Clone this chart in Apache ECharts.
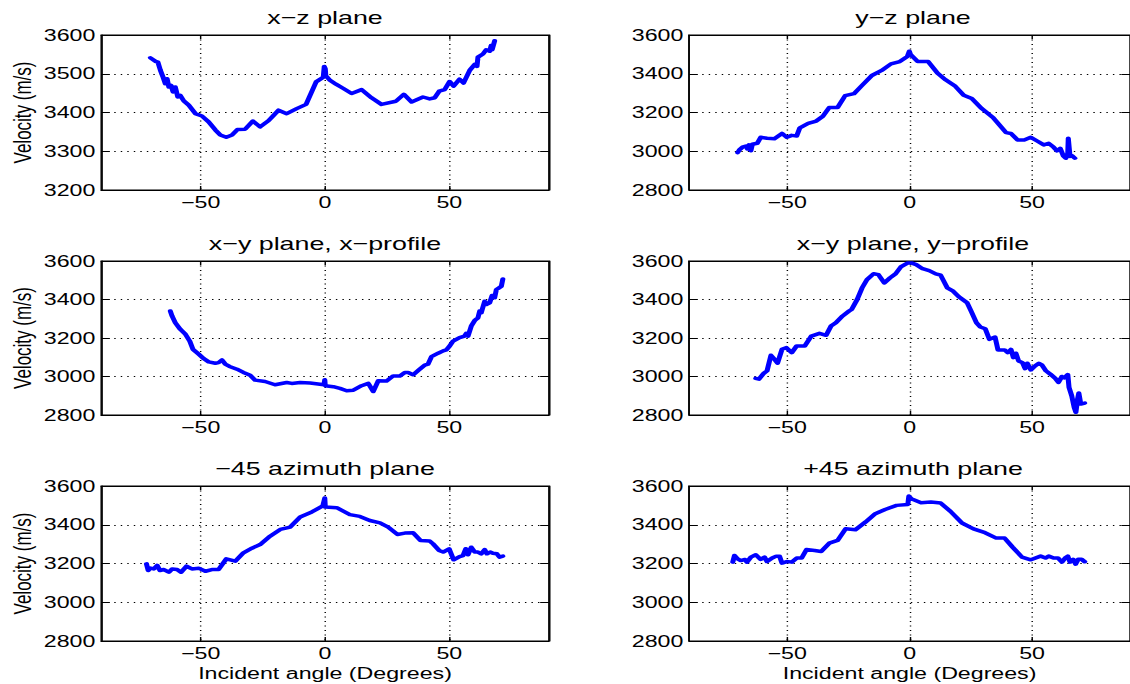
<!DOCTYPE html>
<html>
<head>
<meta charset="utf-8">
<script src="https://cdn.jsdelivr.net/npm/echarts@6/dist/echarts.min.js"></script>
<style>
html,body{margin:0;padding:0;background:#fff;overflow:hidden;width:1130px;height:684px;}
#chart{width:780px;height:684px;transform:scaleX(1.448718);transform-origin:0 0;}
</style>
</head>
<body>
<div id="chart"></div>
<script>
// ---- data ----
const xTicks = [-50, 0, 50];
const titles = ['x\u2212z plane', 'y\u2212z plane', 'x\u2212y plane, x\u2212profile', 'x\u2212y plane, y\u2212profile', '\u221245 azimuth plane', '+45 azimuth plane'];
const yLabel = 'Velocity (m/s)';
const xLabel = 'Incident angle (Degrees)';

const xzAngle = [-70.2,-68.2,-67.2,-66.2,-65.1,-64.2,-63.5,-62.8,-61.9,-61.1,-60.2,-59.2,-58.2,-56.8,-54.8,-52.1,-49.5,-46.8,-44.1,-42.1,-39.7,-37.4,-35.2,-32.1,-29.0,-26.1,-22.7,-18.7,-15.4,-11.4,-7.6,-3.6,-0.7,-0.3,0.1,0.3,2.0,4.4,7.4,10.7,14.7,18.7,22.7,28.5,31.7,34.8,39.4,42.1,44.1,45.9,48.1,50.1,51.7,54.1,55.7,58.2,60.2,61.1,61.5,63.5,64.8,66.2,66.8,67.2,68.2];
const xzVel   = [3541,3532,3530,3509,3491,3474,3487,3466,3470,3453,3466,3440,3444,3430,3419,3397,3391,3376,3355,3342,3336,3342,3356,3357,3378,3363,3379,3406,3397,3410,3421,3479,3491,3519,3513,3495,3483,3473,3462,3449,3459,3438,3421,3429,3447,3427,3440,3435,3438,3455,3459,3480,3468,3486,3476,3509,3524,3519,3543,3551,3562,3558,3573,3562,3585];

const yzAngle = [-70.2,-69.5,-68.2,-66.8,-66.2,-65.5,-64.8,-64.2,-62.2,-60.8,-58.2,-55.2,-52.1,-50.1,-48.1,-46.1,-44.8,-41.4,-38.1,-35.4,-32.8,-29.4,-26.3,-22.7,-19.4,-15.4,-11.4,-7.6,-4.0,-0.9,-0.1,0.4,3.3,7.6,11.4,14.7,18.7,22.1,25.4,29.4,34.1,39.4,41.4,44.1,46.8,49.5,52.1,54.8,56.8,58.8,60.2,61.5,62.8,63.8,64.6,64.8,65.5,66.4,67.5];
const yzVel   = [2993,3007,3021,3027,3012,3033,3003,3036,3041,3072,3067,3065,3092,3072,3082,3079,3121,3144,3156,3181,3226,3226,3287,3297,3340,3391,3417,3451,3463,3489,3516,3499,3463,3463,3403,3369,3335,3289,3272,3221,3174,3096,3092,3058,3058,3072,3053,3033,3041,3021,3002,3015,2976,2964,2990,3067,2973,2976,2964];

const xyxAngle = [-62.2,-61.5,-60.2,-58.2,-56.1,-54.4,-53.1,-50.8,-48.8,-46.8,-44.1,-42.8,-41.4,-40.1,-38.4,-35.4,-32.8,-30.1,-28.1,-24.1,-20.1,-15.4,-13.4,-10.0,-6.0,-2.0,-0.4,-0.1,0.1,3.3,6.0,8.7,11.4,14.7,17.4,19.4,21.4,24.7,27.4,30.1,32.1,33.4,35.4,38.1,40.1,41.4,42.8,45.5,47.5,48.8,49.9,51.5,54.1,56.1,56.8,57.5,58.8,60.2,61.5,62.2,62.8,64.2,64.8,66.2,67.2,68.2,68.9,70.0,70.9,71.5];
const xyxVel   = [3340,3314,3279,3245,3219,3184,3141,3116,3093,3076,3069,3072,3086,3064,3052,3038,3021,3007,2981,2974,2957,2969,2964,2969,2966,2960,2957,2983,2952,2947,2938,2926,2929,2952,2964,2922,2978,2976,3003,3003,3021,3021,3009,3038,3059,3064,3103,3121,3133,3138,3155,3184,3202,3210,3224,3210,3262,3291,3305,3340,3331,3391,3374,3383,3421,3409,3452,3460,3469,3507];

const xyyAngle = [-62.8,-61.5,-59.5,-58.2,-56.6,-55.2,-53.9,-52.1,-50.4,-48.1,-46.1,-42.8,-40.1,-36.8,-34.1,-32.1,-30.1,-27.4,-24.7,-23.7,-21.4,-19.4,-17.4,-14.7,-12.7,-10.3,-8.0,-5.7,-3.6,-0.7,0.7,2.7,5.3,8.0,10.7,12.7,15.4,17.8,20.1,23.5,25.1,27.3,28.9,30.9,32.6,34.9,36.1,38.8,40.1,41.4,42.4,43.4,44.5,46.1,47.2,48.1,49.5,51.2,52.8,54.1,55.7,57.5,59.5,60.8,62.2,63.2,64.6,65.1,66.2,67.2,67.9,68.6,69.1,69.9,71.5];
const xyyVel   = [2990,2986,3017,3029,3110,3090,3069,3141,3150,3124,3159,3159,3210,3224,3214,3262,3279,3314,3340,3348,3400,3460,3503,3534,3529,3486,3512,3534,3569,3590,3590,3581,3560,3550,3533,3526,3460,3443,3414,3383,3340,3279,3257,3248,3193,3205,3138,3138,3124,3141,3098,3121,3081,3072,3041,3069,3034,3055,3069,3059,3029,3012,2990,2969,3000,2993,3010,2943,2900,2840,2814,2883,2914,2857,2862];

const m45Angle = [-71.8,-71.1,-70.2,-68.9,-67.5,-66.4,-64.8,-62.8,-61.5,-59.5,-57.9,-55.7,-53.5,-50.8,-48.1,-45.5,-42.8,-39.7,-36.1,-32.8,-29.4,-26.1,-22.1,-18.0,-14.0,-10.0,-5.3,-0.9,-0.1,0.1,4.7,10.0,14.0,18.0,22.1,25.4,29.1,32.1,35.4,38.4,42.1,43.4,45.9,47.5,49.9,51.7,54.1,55.5,56.6,57.5,58.8,60.2,61.5,62.8,64.2,65.1,66.4,67.5,69.1,70.2,71.5];
const m45Vel   = [3198,3164,3176,3172,3190,3164,3169,3155,3172,3169,3155,3186,3172,3176,3160,3169,3169,3224,3212,3255,3279,3298,3341,3376,3388,3440,3466,3497,3538,3491,3488,3452,3443,3422,3410,3388,3350,3357,3359,3319,3316,3302,3267,3259,3276,3219,3236,3241,3276,3245,3284,3259,3259,3250,3272,3250,3259,3253,3250,3233,3238];

const p45Angle = [-72.2,-71.5,-70.2,-68.9,-67.2,-66.4,-64.8,-62.8,-60.8,-59.2,-58.2,-56.1,-54.4,-53.1,-52.1,-50.1,-48.1,-46.1,-44.1,-42.1,-38.8,-36.1,-32.8,-29.4,-26.1,-22.1,-18.0,-14.0,-10.0,-5.3,-0.7,-0.3,0.7,4.7,8.7,12.7,16.7,21.4,26.1,30.8,35.4,38.8,42.1,45.9,49.5,53.5,55.5,56.8,58.8,60.6,62.2,63.5,64.6,65.5,66.8,67.8,68.9,70.2,71.5];
const p45Vel   = [3207,3241,3224,3215,3221,3207,3233,3245,3221,3233,3210,3228,3238,3238,3202,3210,3207,3228,3228,3272,3267,3262,3305,3319,3379,3374,3414,3457,3479,3500,3505,3548,3534,3514,3517,3512,3469,3409,3379,3359,3331,3331,3284,3233,3219,3238,3228,3238,3228,3228,3207,3228,3238,3207,3221,3197,3222,3222,3209];

const angles = [xzAngle, yzAngle, xyxAngle, xyyAngle, m45Angle, p45Angle];
const vels   = [xzVel, yzVel, xyxVel, xyyVel, m45Vel, p45Vel];
const yMins  = [3200, 2800, 2800, 2800, 2800, 2800];
const yMaxs  = [3600, 3600, 3600, 3600, 3600, 3600];
const ySteps = [100, 200, 200, 200, 200, 200];

// ---- layout (unscaled container coordinates) ----
const FONT = '"Liberation Sans", Arial, Helvetica, sans-serif';
const colLeft = [69.85, 475.7];
const gridW = 309;
const rowTop = [35, 261, 486];
const rowH = [155, 154, 155];
const gridLine = {show: true, lineStyle: {color: '#000', width: 1, type: [1, 3.5]}};

const grids = [], xAxes = [], yAxes = [], series = [], graphics = [];
for (let i = 0; i < 6; i++) {
  const col = i % 2, row = Math.floor(i / 2);
  grids.push({left: colLeft[col], top: rowTop[row], width: gridW, height: rowH[row],
    show: true, borderColor: '#000', borderWidth: 1, backgroundColor: '#fff', containLabel: false});
  const isBottom = row === 2;
  xAxes.push({
    type: 'value', gridIndex: i, min: -90, max: 90, position: 'bottom',
    axisLine: {show: true, onZero: false, lineStyle: {color: '#000', width: 1}},
    axisTick: {show: true, inside: true, length: 4, customValues: xTicks, lineStyle: {color: '#000'}},
    axisLabel: {show: true, customValues: xTicks, color: '#000', fontSize: 16, fontFamily: FONT, margin: 4,
      formatter: v => (v < 0 ? '\u2212' + Math.abs(v) : String(v))},
    splitLine: gridLine,
    name: isBottom ? xLabel : '', nameLocation: 'middle', nameGap: 24,
    nameTextStyle: {color: '#000', fontSize: 16, fontFamily: FONT}
  });
  xAxes.push({
    type: 'value', gridIndex: i, min: -90, max: 90, position: 'top',
    axisLine: {show: true, onZero: false, lineStyle: {color: '#000', width: 1}},
    axisTick: {show: true, inside: true, length: 4, customValues: xTicks, lineStyle: {color: '#000'}},
    axisLabel: {show: false}, splitLine: {show: false}
  });
  yAxes.push({
    type: 'value', gridIndex: i, min: yMins[i], max: yMaxs[i], interval: ySteps[i], position: 'left',
    axisLine: {show: true, onZero: false, lineStyle: {color: '#000', width: 1}},
    axisTick: {show: true, inside: true, length: 6, lineStyle: {color: '#000'}},
    axisLabel: {show: true, color: '#000', fontSize: 16, fontFamily: FONT, margin: 4, formatter: v => String(v)},
    splitLine: gridLine,
    name: col === 0 ? yLabel : '', nameLocation: 'middle', nameGap: 46, nameRotate: 90,
    nameTextStyle: {color: '#000', fontSize: 17, fontFamily: FONT}
  });
  yAxes.push({
    type: 'value', gridIndex: i, min: yMins[i], max: yMaxs[i], interval: ySteps[i], position: 'right',
    axisLine: {show: true, onZero: false, lineStyle: {color: '#000', width: 1}},
    axisTick: {show: true, inside: true, length: 6, lineStyle: {color: '#000'}},
    axisLabel: {show: false}, splitLine: {show: false}
  });
  series.push({
    type: 'line', xAxisIndex: 2 * i, yAxisIndex: 2 * i,
    data: angles[i].map((a, k) => [a, vels[i][k]]),
    showSymbol: false, symbol: 'none', smooth: false,
    lineStyle: {color: '#0000ff', width: 3.5, join: 'round', cap: 'round'},
    itemStyle: {color: '#0000ff'}, animation: false, silent: true
  });
  graphics.push({
    type: 'text', x: colLeft[col] + gridW / 2, y: rowTop[row] - 17,
    style: {text: titles[i], font: '18.5px ' + FONT, fill: '#000', textAlign: 'center', textVerticalAlign: 'middle'}
  });
}

const chart = echarts.init(document.getElementById('chart'), null, {renderer: 'svg'});
chart.setOption({
  animation: false,
  backgroundColor: '#fff',
  grid: grids, xAxis: xAxes, yAxis: yAxes, series: series,
  graphic: graphics
});
</script>
</body>
</html>
